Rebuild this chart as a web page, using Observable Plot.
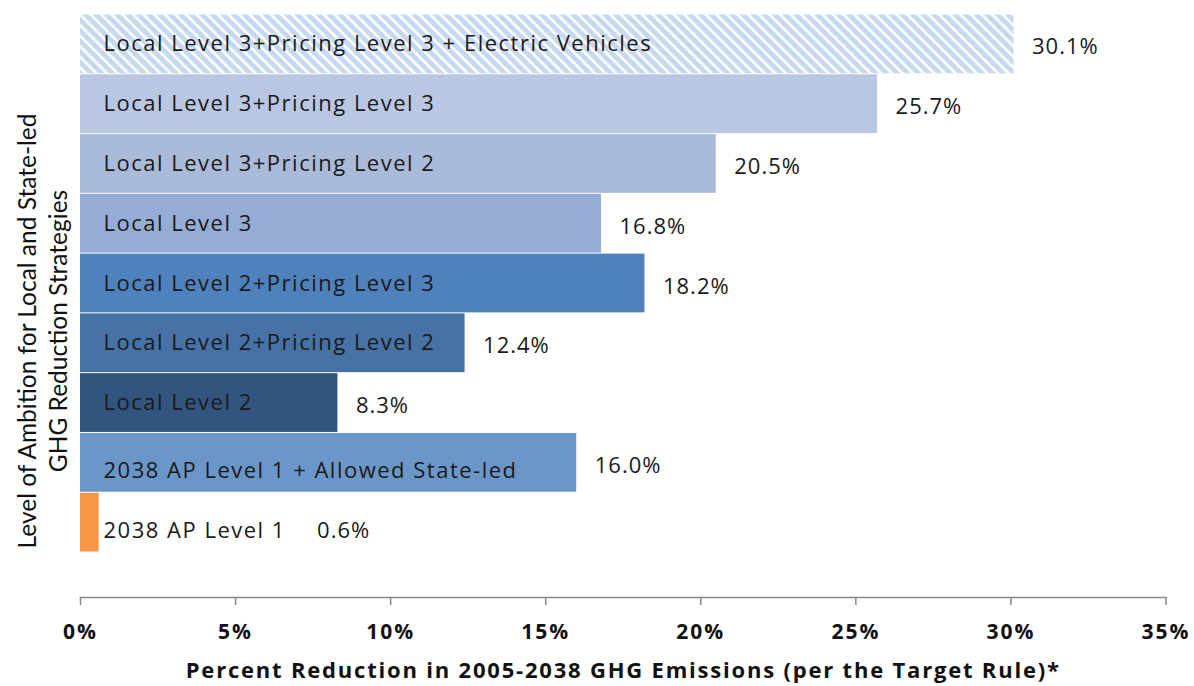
<!DOCTYPE html>
<html>
<head>
<meta charset="utf-8">
<script src="https://cdn.jsdelivr.net/npm/d3@7"></script>
<script src="https://cdn.jsdelivr.net/npm/@observablehq/plot@0.6"></script>
<style>
  html, body { margin: 0; padding: 0; background: #fff; }
  #chart svg { display: block; }
</style>
</head>
<body>
<div id="chart"></div>
<script>
const categories = [
  "Local Level 3+Pricing Level 3 + Electric Vehicles",
  "Local Level 3+Pricing Level 3",
  "Local Level 3+Pricing Level 2",
  "Local Level 3",
  "Local Level 2+Pricing Level 3",
  "Local Level 2+Pricing Level 2",
  "Local Level 2",
  "2038 AP Level 1 + Allowed State-led",
  "2038 AP Level 1"
];
const values = [30.1, 25.7, 20.5, 16.8, 18.2, 12.4, 8.3, 16.0, 0.6];
const valueLabels = ["30.1%", "25.7%", "20.5%", "16.8%", "18.2%", "12.4%", "8.3%", "16.0%", "0.6%"];
const colors = ["url(#hatch)", "#b9c7e2", "#aabbd9", "#95acd4", "#4f81bd", "#4672a6", "#31557f", "#6b96c8", "#f79646"];
const xTicks = [0, 5, 10, 15, 20, 25, 30, 35];
const xTitle = "Percent Reduction in 2005-2038 GHG Emissions (per the Target Rule)*";
const yTitle = "Level of Ambition for Local and State-led\nGHG Reduction Strategies";

const data = categories.map((c, i) => ({i, cat: c, value: values[i], label: valueLabels[i], color: colors[i]}));
const upper = data.filter(d => d.i < 7);
const lower = data.filter(d => d.i >= 7);

const W = 1194, H = 686;
const F = "'Open Sans', sans-serif";
const plot = Plot.plot({
  width: W,
  height: H,
  marginLeft: 80,
  marginRight: 28.5,
  marginTop: 14,
  marginBottom: 89,
  style: {fontFamily: F, background: "#fff", overflow: "visible"},
  x: {domain: [0, 35], ticks: xTicks},
  y: {domain: categories, range: [14, 552], padding: 0, round: false},
  marks: [
    Plot.barX(data, {x: "value", y: "cat", fill: "color", insetTop: 0.5, insetBottom: 0.5}),
    Plot.text(upper, {x: 0, y: "cat", text: "cat", textAnchor: "start", dx: 23, dy: 0, fontSize: 22, fill: "#1a1a1a"}),
    Plot.text(lower, {x: 0, y: "cat", text: "cat", textAnchor: "start", dx: 23, dy: 8, fontSize: 22, fill: "#1a1a1a"}),
    Plot.text(data.filter(d => d.value >= 1), {x: "value", y: "cat", text: "label", textAnchor: "start", dx: 18, dy: 3, fontSize: 22, fill: "#1a1a1a"}),
    Plot.text(data.filter(d => d.value < 1), {x: "value", y: "cat", text: "label", textAnchor: "start", dx: 218, dy: 8, fontSize: 22, fill: "#1a1a1a"}),
    Plot.frame({anchor: "bottom", stroke: "#888", strokeWidth: 1.5}),
    Plot.axisX({ticks: xTicks, tickSize: 8, tickPadding: 19, stroke: "#888", strokeWidth: 1.5, tickFormat: d => d + "%", fontSize: 21, fontWeight: "bold", fill: "#111", label: null}),
    Plot.axisY({ticks: [], label: null}),
    Plot.text([xTitle], {frameAnchor: "bottom", dy: 80, fontSize: 22, fontWeight: "bold", fill: "#111"}),
    Plot.text([yTitle], {frameAnchor: "left", textAnchor: "middle", rotate: -90, dx: -39, dy: 25, fontSize: 24.5, lineHeight: 1.25, fill: "#111", fontFamily: "Lato, sans-serif"})
  ]
});

const svg = d3.select(plot);
const catSet = new Set(categories), valSet = new Set(valueLabels), tickSet = new Set(xTicks.map(d => d + "%"));
svg.selectAll("text").each(function() {
  const t = this.textContent;
  if (catSet.has(t)) this.style.letterSpacing = "1.5px";
  else if (valSet.has(t)) this.style.letterSpacing = "1px";
  else if (tickSet.has(t)) this.style.letterSpacing = "2px";
  else if (t === xTitle) this.style.letterSpacing = "1.8px";
});

// hatch pattern for the first bar
const defs = svg.insert("defs", ":first-child");
const pat = defs.append("pattern")
  .attr("id", "hatch")
  .attr("patternUnits", "userSpaceOnUse")
  .attr("width", 7.5).attr("height", 7.5)
  .attr("patternTransform", "rotate(-45)");
pat.append("rect").attr("width", 7.5).attr("height", 7.5).attr("fill", "#c6d9f1");
pat.append("rect").attr("x", 0).attr("width", 2.6).attr("height", 7.5).attr("fill", "#fff");

document.getElementById("chart").appendChild(plot);
</script>
</body>
</html>
